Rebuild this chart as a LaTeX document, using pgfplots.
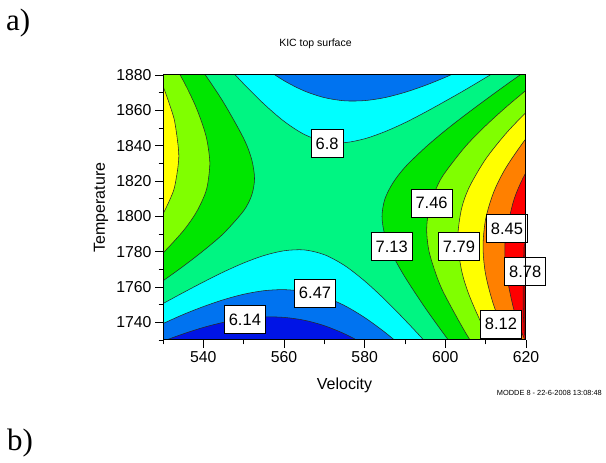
\documentclass[border=0pt]{standalone}
\usepackage{fontspec}
\setmainfont{Liberation Sans}
\newfontfamily\seriffont{Liberation Serif}
\usepackage{pgfplots}
\pgfplotsset{compat=1.18}
\definecolor{cDB}{RGB}{0,20,230}
\definecolor{cMB}{RGB}{0,115,240}
\definecolor{cCY}{RGB}{0,255,255}
\definecolor{cSG}{RGB}{0,245,130}
\definecolor{cGR}{RGB}{0,230,0}
\definecolor{cYG}{RGB}{128,255,0}
\definecolor{cYE}{RGB}{255,255,0}
\definecolor{cOR}{RGB}{255,128,0}
\definecolor{cRD}{RGB}{255,0,0}
\definecolor{cDR}{RGB}{185,0,0}
\definecolor{cline}{RGB}{40,40,40}
\tikzset{lbl/.style={draw=black, line width=0.8pt, fill=white, inner xsep=4.5pt, inner ysep=0pt, minimum height=28pt, font=\fontsize{16.5}{18}\selectfont}}
\pgfplotsset{reg/.style={draw=cline, line width=0.55pt, smooth}}
\begin{document}
\begin{tikzpicture}
\path (0pt,0pt) rectangle (606pt,463pt);
\node[anchor=base west,inner sep=0pt,font=\seriffont\fontsize{31}{34}\selectfont] at (6pt,432pt) {a)};
\node[anchor=base west,inner sep=0pt,font=\seriffont\fontsize{31}{34}\selectfont] at (7pt,12pt) {b)};
\node[anchor=base,inner sep=0pt,font=\fontsize{10.5}{12}\selectfont] at (315.5pt,416pt) {KIC top surface};
\node[anchor=base east,inner sep=0pt,font=\fontsize{7.4}{9}\selectfont] at (602pt,67pt) {MODDE 8 - 22-6-2008 13:08:48};
\begin{axis}[
  at={(163pt,123pt)}, anchor=south west,
  scale only axis, width=363pt, height=265pt,
  xmin=530, xmax=620, ymin=1730, ymax=1880,
  xtick={540,560,...,620}, minor xtick={530,550,...,610},
  ytick={1740,1760,...,1880}, minor ytick={1730,1750,...,1870},
  tick pos=left, tick align=outside,
  major tick length=8pt, minor tick length=4.5pt,
  every tick/.style={black, line width=0.8pt},
  axis line style={black, line width=1pt},
  /pgf/number format/assume math mode=true,
  /pgf/number format/1000 sep={},
  ticklabel style={font=\fontsize{15.8}{18}\selectfont},
  xlabel={Velocity}, ylabel={Temperature},
  every axis x label/.style={at={(axis description cs:0.5,-0.1868)}, anchor=base, font=\fontsize{16}{18}\selectfont},
  every axis y label/.style={at={(axis description cs:-0.1598,0.5)}, anchor=base, rotate=90, font=\fontsize{16}{18}\selectfont},
  axis background/.style={fill=cSG},
  clip mode=individual,
  axis on top,
]
% bottom cyan (f < 6.8)
\addplot[reg, fill=cCY] coordinates {(520,1737.6) (525,1744.2) (530,1750.6) (535,1756.8) (540,1762.8) (545,1768.5) (550,1773.6) (555,1777.8) (560,1780.5) (565,1781.0) (570,1778.3) (575,1772.2) (580,1763.4) (585,1752.9) (590,1741.3) (595,1729.1) (600,1716.4) (605,1703.4) (605,1680) (520,1680)} --cycle;
% bottom blue (f < 6.47)
\addplot[reg, fill=cMB] coordinates {(520,1728.3) (525,1734.0) (530,1739.3) (535,1744.4) (540,1748.9) (545,1752.8) (550,1755.9) (555,1757.9) (560,1758.5) (565,1757.4) (570,1754.4) (575,1749.5) (580,1742.7) (585,1734.4) (590,1724.9) (595,1714.5) (595,1680) (520,1680)} --cycle;
% dark blue (f < 6.14)
\addplot[reg, fill=cDB] coordinates {(520,1719.7) (525,1724.7) (530,1729.3) (535,1733.45) (540,1737.1) (545,1740.0) (550,1742.0) (555,1743.05) (560,1742.8) (565,1741.2) (570,1738.1) (575,1733.5) (580,1727.5) (585,1720.1) (585,1680) (520,1680)} --cycle;
% top cyan (f < 6.8)
\addplot[reg, fill=cCY] coordinates {(540,1900.1) (545,1887.3) (550,1875.0) (555,1863.65) (560,1853.8) (565,1846.4) (570,1842.3) (575,1841.7) (580,1843.9) (585,1847.9) (590,1853.0) (595,1858.9) (600,1865.2) (605,1871.7) (610,1878.5) (615,1885.4) (620,1892.4) (620,1920) (540,1920)} --cycle;
% top blue (f < 6.47)
\addplot[reg, fill=cMB] coordinates {(550,1893.4) (555,1884.4) (560,1876.8) (565,1871.0) (570,1867.2) (575,1865.4) (580,1865.5) (585,1867.2) (590,1870.2) (595,1874.1) (600,1878.7) (605,1883.9) (610,1889.6) (610,1920) (550,1920)} --cycle;
% left green (f > 7.13)
\addplot[reg, fill=cGR] coordinates {(530,1913.3) (535,1897.7) (540,1881.7) (545,1864.5) (550,1844.1) (552,1832.1) (552.69,1821.4) (552,1812.0) (550,1803.15) (545,1790.3) (540,1780.5) (535,1771.7) (530,1763.5) (525,1755.6) (520,1747.9) (505,1747.9) (505,1913.3)} --cycle;
% left yellow-green (f > 7.46)
\addplot[reg, fill=cYG] coordinates {(530,1896.85) (535,1876.9) (538,1862.8) (540,1850.6) (541,1841.9) (541.61,1829.9) (541,1817.3) (540,1810.3) (538,1801.3) (535,1791.7) (530,1779.25) (525,1768.8) (520,1759.3) (505,1759.3) (505,1896.85)} --cycle;
% left yellow (f > 7.79)
\addplot[reg, fill=cYE] coordinates {(525,1897.7) (528,1884.1) (530,1873.7) (532,1860.8) (533,1852.3) (533.92,1834.1) (533,1818.0) (532,1811.0) (530,1801.4) (528,1794.2) (525,1785.1) (520,1772.6) (505,1772.6) (505,1897.7)} --cycle;
% right green (f > 7.13)
\addplot[reg, fill=cGR] coordinates {(625,1890.4) (620,1882.4) (615,1874.3) (610,1866.0) (605,1857.5) (600,1848.6) (595,1838.9) (590,1827.8) (587,1818.9) (585,1809.7) (584.3,1799.9) (585,1789.5) (587,1777.9) (590,1765.6) (595,1748.2) (600,1732.3) (605,1717.1) (610,1702.3) (640,1702.3) (640,1890.4)} --cycle;
% right yellow-green (f > 7.46)
\addplot[reg, fill=cYG] coordinates {(630,1889.3) (625,1880.5) (620,1871.3) (615,1861.7) (610,1851.3) (605,1839.6) (600,1825.0) (598,1817.1) (596,1804.5) (595.38,1792.3) (596,1779.8) (598,1765.2) (600,1754.9) (605,1734.2) (610,1716.4) (615,1699.8) (640,1699.8) (640,1889.3)} --cycle;
% right yellow (f > 7.79)
\addplot[reg, fill=cYE] coordinates {(630,1879.6) (625,1869.6) (620,1858.8) (615,1846.8) (610,1832.4) (606,1816.8) (604,1804.1) (603.07,1787.1) (604,1769.7) (606,1754.8) (610,1734.5) (615,1714.0) (640,1714.0) (640,1879.6)} --cycle;
% right orange (f > 8.12)
\addplot[reg, fill=cOR] coordinates {(630,1869.0) (625,1857.3) (620,1844.0) (615,1827.4) (612,1813.7) (610,1798.5) (609.35,1782.8) (610,1767.0) (612,1749.7) (615,1732.6) (620,1710.1) (640,1710.1) (640,1869.0)} --cycle;
% right red (f > 8.45)
\addplot[reg, fill=cRD] coordinates {(630,1857.1) (625,1842.9) (620,1824.9) (617,1809.3) (615,1789.1) (614.77,1779.2) (615,1769.3) (617,1747.2) (620,1728.4) (625,1704.5) (640,1704.5) (640,1857.1)} --cycle;
% dark red (f > 8.78)
\addplot[reg, fill=cDR] coordinates {(625,1800) (620,1786) (619.45,1778) (619.3,1765) (619.3,1750) (619.45,1740) (620,1731) (625,1715) (640,1715) (640,1800)} --cycle;
% contour labels
\node[lbl] at (axis cs:570.7,1841.1) {6.8};
\node[lbl] at (axis cs:567.7,1756.5) {6.47};
\node[lbl] at (axis cs:550.3,1741.5) {6.14};
\node[lbl] at (axis cs:586.7,1782.9) {7.13};
\node[lbl] at (axis cs:596.6,1807.4) {7.46};
\node[lbl] at (axis cs:603.4,1782.9) {7.79};
\node[lbl] at (axis cs:615.3,1792.9) {8.45};
\node[lbl] at (axis cs:619.8,1768.8) {8.78};
\node[lbl] at (axis cs:613.8,1739.1) {8.12};
\end{axis}
\end{tikzpicture}
\end{document}
